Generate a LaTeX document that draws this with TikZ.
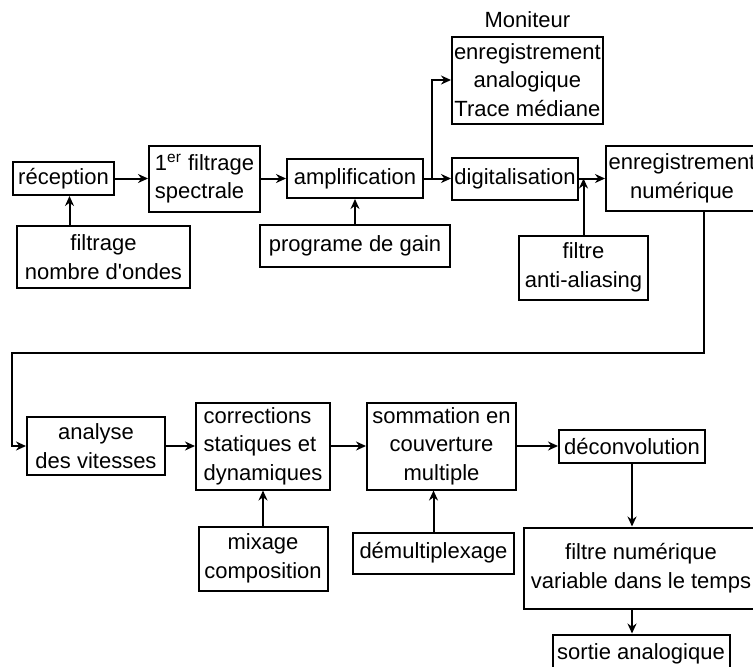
\documentclass[tikz,border=0pt]{standalone}
\usepackage{fontspec}
\setmainfont{Liberation Sans}
\usepackage{tikz}
\usepackage{xcolor}
\usetikzlibrary{positioning,arrows.meta}

\begin{document}
\begin{tikzpicture}
[
>={Stealth[length=5pt,width=4.5pt]},
font=\fontsize{11}{14.25}\selectfont,
block-a/.style={draw, line width=1pt, inner sep=1pt, align=center},
block-l/.style={block-a, align=left},
text-a/.style={inner sep=0pt},
link-a/.style={->, line width=1pt}
]
\useasboundingbox (0,0) rectangle (376.5pt,-333pt);
% upper chain
\node (reception)   [block-a, minimum width=50.5pt, minimum height=16.5pt] at (31.75pt,-89.25pt) {réception};
\node (filtrage-1)  [block-l, minimum width=55.5pt, minimum height=33pt,   right = 16.5pt of reception ] {1\textsuperscript{er} filtrage\\spectrale};
\node (ampli)       [block-a, minimum width=68pt,   minimum height=19.5pt, right = 12.5pt of filtrage-1] {amplification};
\node (digit)       [block-a, minimum width=63pt,   minimum height=21pt,   right = 13.5pt of ampli     ] {digitalisation};
\node (enreg-num)   [block-a, minimum width=76pt,   minimum height=32.5pt, right = 13pt of digit       ] {enregistrement\\numérique};
\node (moniteur)    [block-a, minimum width=70.5pt, minimum height=43.5pt, above right = 16pt and 0pt of digit.north west] {enregistrement\\analogique\\Trace médiane};
\node (moniteur-id) [text-a, above = 3.5pt of moniteur] {Moniteur};
\node (ondes)       [block-a, minimum width=86.5pt, minimum height=31pt,   below right = 14.5pt and 2pt of reception.south west] {filtrage\\nombre d\textquotesingle ondes};
\node (gain)        [block-a, minimum width=95pt,   minimum height=21pt,   below = 12.5pt of ampli     ] {programe de gain};
\node (alias)       [block-a, minimum width=64.5pt, minimum height=32pt,   below = 17pt of digit, xshift=34.25pt] {filtre\\anti-aliasing};
% lower chain
\node (analyse)     [block-a, minimum width=69pt,   minimum height=29pt,   below right = 63.5pt and 5pt of ondes.south west] {analyse\\des vitesses};
\node (correc)      [block-l, minimum width=67pt,   minimum height=43.5pt, right = 14.5pt of analyse   ] {corrections\\statiques et\\dynamiques};
\node (mixage)      [block-a, minimum width=64.5pt, minimum height=32pt,   below = 17.5pt of correc    ] {mixage\\composition};
\node (sommation)   [block-a, minimum width=74.5pt, minimum height=43.5pt, right = 17.5pt of correc    ] {sommation en\\couverture\\multiple};
\node (demux)       [block-a, minimum width=80.5pt, minimum height=20.5pt, below = 20.5pt of sommation, xshift=-4pt] {démultiplexage};
\node (deconv)      [block-a, minimum width=73pt,   minimum height=16.5pt, right = 20.5pt of sommation ] {déconvolution};
\node (filtre-num)  [block-a, minimum width=117pt,  minimum height=40.5pt, below = 31.5pt of deconv, xshift=4.5pt] {filtre numérique\\variable dans le temps};
\node (sortie)      [block-a, minimum width=88.5pt, minimum height=19pt,   below = 12pt of filtre-num  ] {sortie analogique};
\coordinate (fork) at ([xshift=4pt]ampli.east);
\coordinate (back) at ([shift={(-7pt,46.5pt)}]analyse.west);
% connectors
\draw [link-a] (reception) -- (filtrage-1);
\draw [link-a] (filtrage-1) -- (ampli);
\draw [link-a] (ampli) -- (digit);
\draw [link-a] (fork) |- (moniteur);
\draw [link-a] (digit) -- (enreg-num);
\draw [link-a] ([xshift=3pt]reception.south |- ondes.north) -- ([xshift=3pt]reception.south);
\draw [link-a] (ampli.south |- gain.north) -- (ampli.south);
\draw [link-a] (alias) -- (alias.north |- digit.east);
\draw [link-a] ([xshift=11pt]enreg-num.south) |- (back) |- (analyse);
\draw [link-a] (analyse) -- (correc);
\draw [link-a] (mixage.north -| correc.south) -- (correc.south);
\draw [link-a] (correc) -- (sommation);
\draw [link-a] (demux.north) -- (demux.north |- sommation.south);
\draw [link-a] (sommation) -- (deconv);
\draw [link-a] (deconv.south) -- (deconv.south |- filtre-num.north);
\draw [link-a] (deconv.south |- filtre-num.south) -- (deconv.south |- sortie.north);
\end{tikzpicture}
\end{document}
